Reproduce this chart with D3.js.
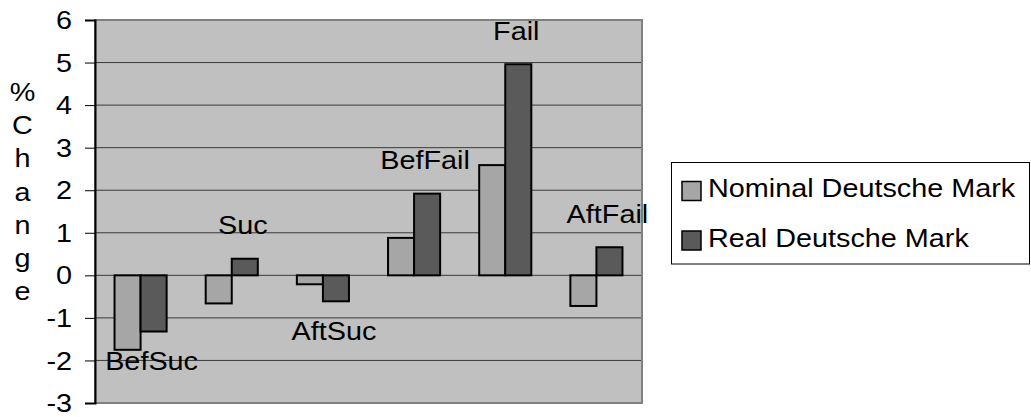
<!DOCTYPE html>
<html>
<head>
<meta charset="utf-8">
<script src="https://cdn.jsdelivr.net/npm/d3@7"></script>
<style>
  html, body { margin: 0; padding: 0; background: #ffffff; }
  svg { display: block; }
  text { font-family: "Liberation Sans", Arial, sans-serif; fill: #000; }
</style>
</head>
<body>
<svg id="chart" width="1031" height="417"></svg>
<script>
// ---- data ----
const categories = ["BefSuc", "Suc", "AftSuc", "BefFail", "Fail", "AftFail"];
const seriesNames = ["Nominal Deutsche Mark", "Real Deutsche Mark"];
const nominalValues = [-1.75, -0.66, -0.21, 0.88, 2.59, -0.72];
const realValues = [-1.32, 0.39, -0.61, 1.92, 4.96, 0.66];
const yTicks = [-3, -2, -1, 0, 1, 2, 3, 4, 5, 6];
const yTitle = "%Change";

// ---- layout / style ----
const W = 1031, H = 417;
const plot = { left: 95, right: 642, top: 20, bottom: 403 };
const colors = ["#a6a6a6", "#5a5a5a"];
const FS = 25.5, SX = 1.13;          // font size and horizontal stretch
const labelOffsets = [20, -24.5, 38.5, -24.5, -24.5, -24.5];

const svg = d3.select("#chart");

const x0 = d3.scaleBand().domain(categories).range([plot.left, plot.right]).padding(0);
const bw = x0.bandwidth();
const x1 = d3.scaleBand().domain(seriesNames).range([bw * 0.75 / 3.5, bw * 2.75 / 3.5]).padding(0);
const y = d3.scaleLinear().domain([-3, 6]).range([plot.bottom, plot.top]);

function addText(parent, x, yy, str, anchor) {
  return parent.append("text")
    .attr("transform", `translate(${x},${yy}) scale(${SX},1)`)
    .attr("text-anchor", anchor || "start")
    .style("font-size", FS + "px")
    .text(str);
}

// plot background
svg.append("rect")
  .attr("x", plot.left).attr("y", plot.top)
  .attr("width", plot.right - plot.left).attr("height", plot.bottom - plot.top)
  .attr("fill", "#c0c0c0").attr("stroke", "#808080").attr("stroke-width", 2);

// gridlines
svg.append("g").selectAll("line").data(yTicks.filter(t => t > -3 && t < 6)).join("line")
  .attr("x1", plot.left).attr("x2", plot.right - 1)
  .attr("y1", d => y(d)).attr("y2", d => y(d))
  .attr("stroke", "#3a3a3a").attr("stroke-width", 1);

// y axis
const yAxis = d3.axisLeft(y).tickValues(yTicks).tickSize(10).tickFormat("");
const ag = svg.append("g").attr("transform", `translate(${plot.left},0)`).call(yAxis);
ag.select(".domain").attr("stroke", "#000").attr("stroke-width", 2);
ag.selectAll(".tick line").attr("stroke", "#000").attr("stroke-width", 1);

yTicks.forEach(t => {
  addText(svg, 72, y(t) + 9.1, String(t), "end");
});

// y title (stacked letters)
yTitle.split("").forEach((ch, i) => {
  addText(svg, 22.5, 101 + i * 33.2, ch, "middle");
});

// bars
const seriesData = [nominalValues, realValues];
const groups = svg.append("g").selectAll("g").data(categories).join("g")
  .attr("transform", d => `translate(${x0(d)},0)`);

groups.selectAll("rect")
  .data((c, ci) => seriesNames.map((s, si) => ({ s, si, v: seriesData[si][ci] })))
  .join("rect")
  .attr("x", d => x1(d.s))
  .attr("width", x1.bandwidth())
  .attr("y", d => y(Math.max(0, d.v)))
  .attr("height", d => Math.abs(y(d.v) - y(0)))
  .attr("fill", d => colors[d.si])
  .attr("stroke", "#000").attr("stroke-width", 2);

// category labels
categories.forEach((c, i) => {
  const off = labelOffsets[i];
  const vals = [nominalValues[i], realValues[i]];
  const anchorVal = off > 0 ? Math.min(...vals) : Math.max(...vals);
  addText(svg, x0(c) + bw / 2 + 11, y(anchorVal) + off, c, "middle");
});

// legend
const lg = svg.append("g");
lg.append("rect").attr("x", 671.5).attr("y", 162.5).attr("width", 358).attr("height", 101.5)
  .attr("fill", "#fff").attr("stroke", "#000").attr("stroke-width", 1);
seriesNames.forEach((s, i) => {
  const top = 181.5 + i * 49.5;
  lg.append("rect").attr("x", 682).attr("y", top).attr("width", 19).attr("height", 19)
    .attr("fill", colors[i]).attr("stroke", "#000").attr("stroke-width", 1.5);
  addText(lg, 708, top + 15.5, s, "start");
});
</script>
</body>
</html>
